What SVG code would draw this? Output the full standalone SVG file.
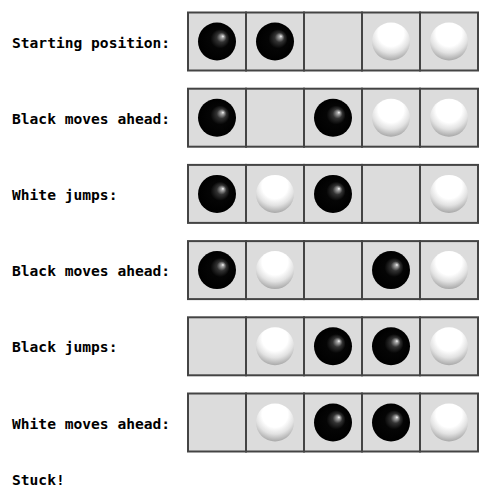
<svg xmlns="http://www.w3.org/2000/svg" xmlns:xlink="http://www.w3.org/1999/xlink" width="503" height="501" viewBox="0 0 503 501">
<style>
.lbl{font-family:"DejaVu Sans Mono","Liberation Mono",monospace;font-weight:bold;font-size:14.6px;fill:#000}
.cell{fill:#dcdcdc;stroke:#444;stroke-width:2}
</style>
<defs>
<radialGradient id="gb" cx="0.5" cy="0.5" r="0.5" fx="0.66" fy="0.36">
<stop offset="0" stop-color="#ffffff"/>
<stop offset="0.07" stop-color="#aaaaaa"/>
<stop offset="0.25" stop-color="#333333"/>
<stop offset="0.5" stop-color="#050505"/>
<stop offset="1" stop-color="#000000"/>
</radialGradient>
<radialGradient id="gw" cx="0.5" cy="0.3" r="0.75" fx="0.5" fy="0.28">
<stop offset="0" stop-color="#ffffff"/>
<stop offset="0.45" stop-color="#ffffff"/>
<stop offset="0.68" stop-color="#e2e2e2"/>
<stop offset="0.85" stop-color="#bbbbbb"/>
<stop offset="1" stop-color="#9a9a9a"/>
</radialGradient>
<circle id="B" r="19" fill="url(#gb)"/>
<circle id="W" r="19" fill="url(#gw)"/>
<g id="board">
<rect class="cell" x="188" y="0" width="58" height="58"/>
<rect class="cell" x="246" y="0" width="58" height="58"/>
<rect class="cell" x="304" y="0" width="58" height="58"/>
<rect class="cell" x="362" y="0" width="58" height="58"/>
<rect class="cell" x="420" y="0" width="58" height="58"/>
</g>
</defs>
<g id="row1" transform="translate(0,12.5)">
<text class="lbl" x="12" y="35">Starting position:</text>
<use xlink:href="#board"/>
<use xlink:href="#B" x="217" y="29"/>
<use xlink:href="#B" x="275" y="29"/>
<use xlink:href="#W" x="391" y="29"/>
<use xlink:href="#W" x="449" y="29"/>
</g>
<g id="row2" transform="translate(0,88.7)">
<text class="lbl" x="12" y="35">Black moves ahead:</text>
<use xlink:href="#board"/>
<use xlink:href="#B" x="217" y="29"/>
<use xlink:href="#B" x="333" y="29"/>
<use xlink:href="#W" x="391" y="29"/>
<use xlink:href="#W" x="449" y="29"/>
</g>
<g id="row3" transform="translate(0,164.9)">
<text class="lbl" x="12" y="35">White jumps:</text>
<use xlink:href="#board"/>
<use xlink:href="#B" x="217" y="29"/>
<use xlink:href="#W" x="275" y="29"/>
<use xlink:href="#B" x="333" y="29"/>
<use xlink:href="#W" x="449" y="29"/>
</g>
<g id="row4" transform="translate(0,241.1)">
<text class="lbl" x="12" y="35">Black moves ahead:</text>
<use xlink:href="#board"/>
<use xlink:href="#B" x="217" y="29"/>
<use xlink:href="#W" x="275" y="29"/>
<use xlink:href="#B" x="391" y="29"/>
<use xlink:href="#W" x="449" y="29"/>
</g>
<g id="row5" transform="translate(0,317.3)">
<text class="lbl" x="12" y="35">Black jumps:</text>
<use xlink:href="#board"/>
<use xlink:href="#W" x="275" y="29"/>
<use xlink:href="#B" x="333" y="29"/>
<use xlink:href="#B" x="391" y="29"/>
<use xlink:href="#W" x="449" y="29"/>
</g>
<g id="row6" transform="translate(0,393.5)">
<text class="lbl" x="12" y="35">White moves ahead:</text>
<use xlink:href="#board"/>
<use xlink:href="#W" x="275" y="29"/>
<use xlink:href="#B" x="333" y="29"/>
<use xlink:href="#B" x="391" y="29"/>
<use xlink:href="#W" x="449" y="29"/>
</g>
<g id="stuck">
<text class="lbl" x="12" y="485">Stuck!</text>
</g>
<g id="connectors"/>
</svg>
